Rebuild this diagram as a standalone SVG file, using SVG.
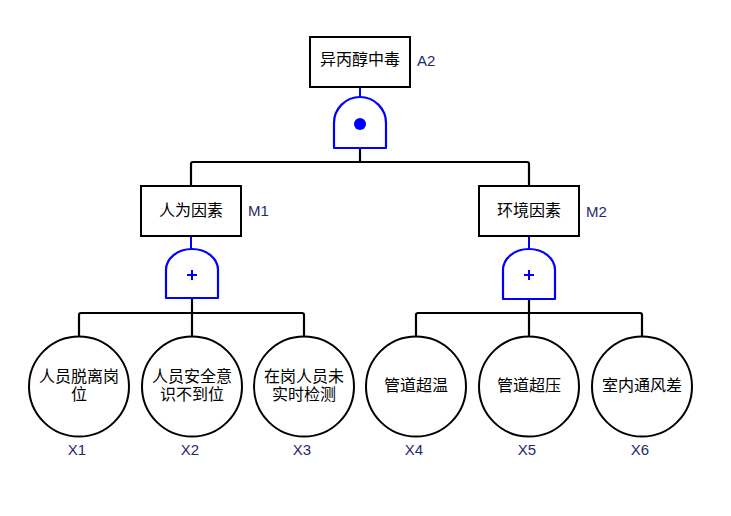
<svg xmlns="http://www.w3.org/2000/svg" width="731" height="516" viewBox="0 0 731 516">
<style>
.box{fill:#fff;stroke:#000;stroke-width:2}
.ev{fill:#fff;stroke:#000;stroke-width:2}
.gate{fill:#fff;stroke:#0000ff;stroke-width:2.2;stroke-linejoin:round}
.sym{stroke:#0000ff;stroke-width:2;fill:none}
.wire{fill:none;stroke:#000;stroke-width:2.2;stroke-linejoin:round}
.bwire{fill:none;stroke:#0000ff;stroke-width:2}
.t{font-family:"Noto Sans CJK SC","Noto Sans",sans-serif;font-size:16px;fill:#000;text-anchor:middle}
.lb{font-family:"Liberation Sans",Arial,sans-serif;font-size:15px;fill:#1e2a70}
.lc{text-anchor:middle}
</style>
<rect width="731" height="516" fill="#fff"/>
<g id="connectors">
<path class="bwire" d="M360 87V97"/>
<path class="bwire" d="M191 236V249"/>
<path class="bwire" d="M529 236V249"/>
<path class="wire" d="M360 148V162"/>
<path class="wire" d="M191 186V164Q191 162 193 162H527Q529 162 529 164V186"/>
<path class="wire" d="M192 298V313"/>
<path class="wire" d="M79 336V315Q79 313 81 313H302Q304 313 304 315V336"/>
<path class="wire" d="M192 313V336"/>
<path class="wire" d="M529 299V313"/>
<path class="wire" d="M416 336V315Q416 313 418 313H640Q642 313 642 315V336"/>
<path class="wire" d="M529 313V336"/>
</g>
<g id="A2">
<rect class="box" x="310" y="37" width="100" height="50"/>
<text class="t" x="360" y="65">异丙醇中毒</text>
<text class="lb" x="417" y="66">A2</text>
</g>
<g id="G0">
<path class="gate" d="M334 148V123A26 26 0 0 1 386 123V148Z"/>
<circle cx="360" cy="124" r="6" fill="#0000ff"/>
</g>
<g id="M1">
<rect class="box" x="141" y="186" width="100" height="50"/>
<text class="t" x="191" y="216">人为因素</text>
<text class="lb" x="248" y="216">M1</text>
</g>
<g id="G1">
<path class="gate" d="M166 298V270A26 21 0 0 1 218 270V298Z"/>
<path class="sym" d="M187 275H197M192 270V280"/>
</g>
<g id="M2">
<rect class="box" x="479" y="186" width="100" height="50"/>
<text class="t" x="529" y="216">环境因素</text>
<text class="lb" x="586" y="217">M2</text>
</g>
<g id="G2">
<path class="gate" d="M503 299V270A26 21 0 0 1 555 270V299Z"/>
<path class="sym" d="M524 275H534M529 270V280"/>
</g>
<g id="X1">
<circle class="ev" cx="79" cy="386.5" r="50"/>
<text class="t" x="79" y="381.5">人员脱离岗<tspan x="79" dy="18">位</tspan></text>
<text class="lb lc" x="77" y="455">X1</text>
</g>
<g id="X2">
<circle class="ev" cx="192" cy="386.5" r="50"/>
<text class="t" x="192" y="381.5">人员安全意<tspan x="192" dy="18">识不到位</tspan></text>
<text class="lb lc" x="190" y="455">X2</text>
</g>
<g id="X3">
<circle class="ev" cx="304" cy="386.5" r="50"/>
<text class="t" x="304" y="381.5">在岗人员未<tspan x="304" dy="18">实时检测</tspan></text>
<text class="lb lc" x="302" y="455">X3</text>
</g>
<g id="X4">
<circle class="ev" cx="416" cy="386.5" r="50"/>
<text class="t" x="416" y="391">管道超温</text>
<text class="lb lc" x="414" y="455">X4</text>
</g>
<g id="X5">
<circle class="ev" cx="529" cy="386.5" r="50"/>
<text class="t" x="529" y="391">管道超压</text>
<text class="lb lc" x="527" y="455">X5</text>
</g>
<g id="X6">
<circle class="ev" cx="642" cy="386.5" r="50"/>
<text class="t" x="642" y="391">室内通风差</text>
<text class="lb lc" x="640" y="455">X6</text>
</g>
</svg>
